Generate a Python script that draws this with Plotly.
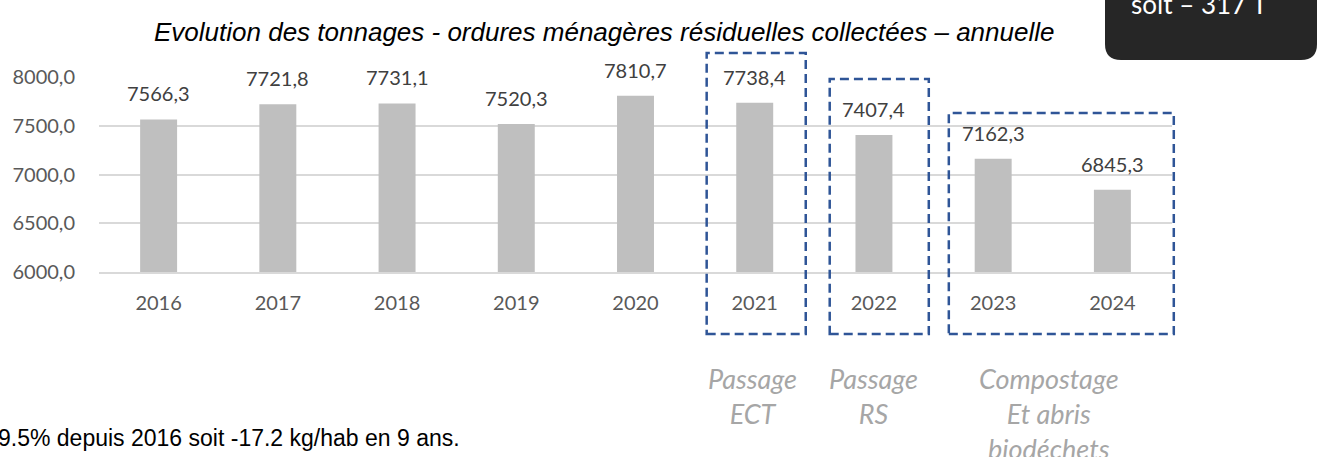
import plotly.graph_objects as go

# ---- data ----
years = ["2016", "2017", "2018", "2019", "2020", "2021", "2022", "2023", "2024"]
tonnages = [7566.3, 7721.8, 7731.1, 7520.3, 7810.7, 7738.4, 7407.4, 7162.3, 6845.3]
y_ticks = [6000, 6500, 7000, 7500, 8000]
title_text = "Evolution des tonnages - ordures ménagères résiduelles collectées – annuelle"
bottom_text = "9.5% depuis 2016 soit -17.2 kg/hab en 9 ans."
corner_text = "soit – 317 T"
event_labels = ["Passage<br>ECT", "Passage<br>RS", "Compostage<br>Et abris<br>biodéchets"]
event_years = [["2021"], ["2022"], ["2023", "2024"]]

W, H = 1317, 457
L, R, T, B = 99, 1172, 77, 272  # plot area in pixels


def px(p):
    return (p - L) / (R - L)


def py(p):
    return (B - p) / (B - T)


def fmt(v):
    return f"{v:.1f}".replace(".", ",")


pos = list(range(len(years)))
n = len(years)


def cat_paper(i):
    # paper x of a category index (axis range is [-0.5, n-0.5])
    return (i + 0.5) / n


fig = go.Figure()
fig.add_trace(go.Bar(
    x=pos, y=tonnages, marker=dict(color="#bfbfbf", line=dict(width=0)),
    hoverinfo="skip", showlegend=False,
))

annotations = []
# data labels
for p, v in zip(pos, tonnages):
    annotations.append(dict(
        x=p, y=v, xref="x", yref="y", text=fmt(v), showarrow=False,
        yanchor="bottom", yshift=12,
        font=dict(family="Lato", size=20, color="#404040"),
    ))

# dashed boxes around event groups
box_tops = [1.123, 0.99, 0.815]
box_pad_left = [0.403, 0.371, 0.372]
box_pad_right = [0.428, 0.46, 0.515]
label_xshift = [-2, 0, -4]
shapes = []
for grp, top, pl, pr, lab, xs in zip(event_years, box_tops, box_pad_left, box_pad_right,
                                     event_labels, label_xshift):
    i0 = years.index(grp[0])
    i1 = years.index(grp[-1])
    shapes.append(dict(
        type="rect", xref="paper", yref="paper",
        x0=cat_paper(i0 - pl), x1=cat_paper(i1 + pr), y0=-0.318, y1=top,
        line=dict(color="#2f5597", width=2.5, dash="9px,5px"),
        fillcolor="rgba(0,0,0,0)",
    ))
    annotations.append(dict(
        x=cat_paper((i0 + i1) / 2), y=-0.45, xref="paper", yref="paper", text=lab,
        showarrow=False, yanchor="top", xanchor="center", align="center", xshift=xs,
        font=dict(family="Lato", size=27, color="#a6a6a6", style="italic"),
    ))

# dark rounded box top right
x0, x1 = px(1105), px(1317)
y0, ytop = py(60), py(-30)
rx, ry = 16 / (R - L), 16 / (B - T)
path = (f"M {x0},{ytop} L {x0},{y0 + ry} Q {x0},{y0} {x0 + rx},{y0} "
        f"L {x1 - rx},{y0} Q {x1},{y0} {x1},{y0 + ry} L {x1},{ytop} Z")
shapes.append(dict(type="path", xref="paper", yref="paper", path=path,
                   fillcolor="#262626", line=dict(width=0)))
annotations.append(dict(
    x=px(1199), y=py(4), xref="paper", yref="paper", text=corner_text,
    showarrow=False, xanchor="center", yanchor="middle",
    font=dict(family="Lato", size=26, color="#ffffff"),
))

# title
annotations.append(dict(
    x=px(604), y=py(32), xref="paper", yref="paper", text=f"<i>{title_text}</i>",
    showarrow=False, xanchor="center", yanchor="middle",
    font=dict(family="Liberation Sans", size=26, color="#000000"),
))

# bottom text
annotations.append(dict(
    x=px(-4), y=py(438), xref="paper", yref="paper", text=bottom_text,
    showarrow=False, xanchor="left", yanchor="middle",
    font=dict(family="Liberation Sans", size=23, color="#000000"),
))

fig.update_layout(
    width=W, height=H,
    margin=dict(l=L, r=W - R, t=T, b=H - B, pad=0),
    paper_bgcolor="white", plot_bgcolor="white",
    bargap=0.69,
    annotations=annotations,
    shapes=shapes,
    showlegend=False,
)
fig.update_xaxes(
    range=[-0.5, n - 0.5], tickvals=pos, ticktext=years,
    showgrid=False, showline=True, linecolor="#d9d9d9", linewidth=1.5, zeroline=False,
    ticks="", ticklabelstandoff=12,
    tickfont=dict(family="Lato", size=20, color="#595959"),
)
fig.update_yaxes(
    range=[6000, 8002], tickvals=y_ticks, ticktext=[fmt(v) for v in y_ticks],
    showgrid=True, gridcolor="#d9d9d9", gridwidth=1.5, zeroline=False, showline=False,
    ticks="", ticklabelstandoff=23,
    tickfont=dict(family="Lato", size=20, color="#595959"),
)

fig.write_html(
    "out.html",
    config={"displayModeBar": False},
    post_script="document.body.style.margin='0';document.body.style.overflow='hidden';",
)
